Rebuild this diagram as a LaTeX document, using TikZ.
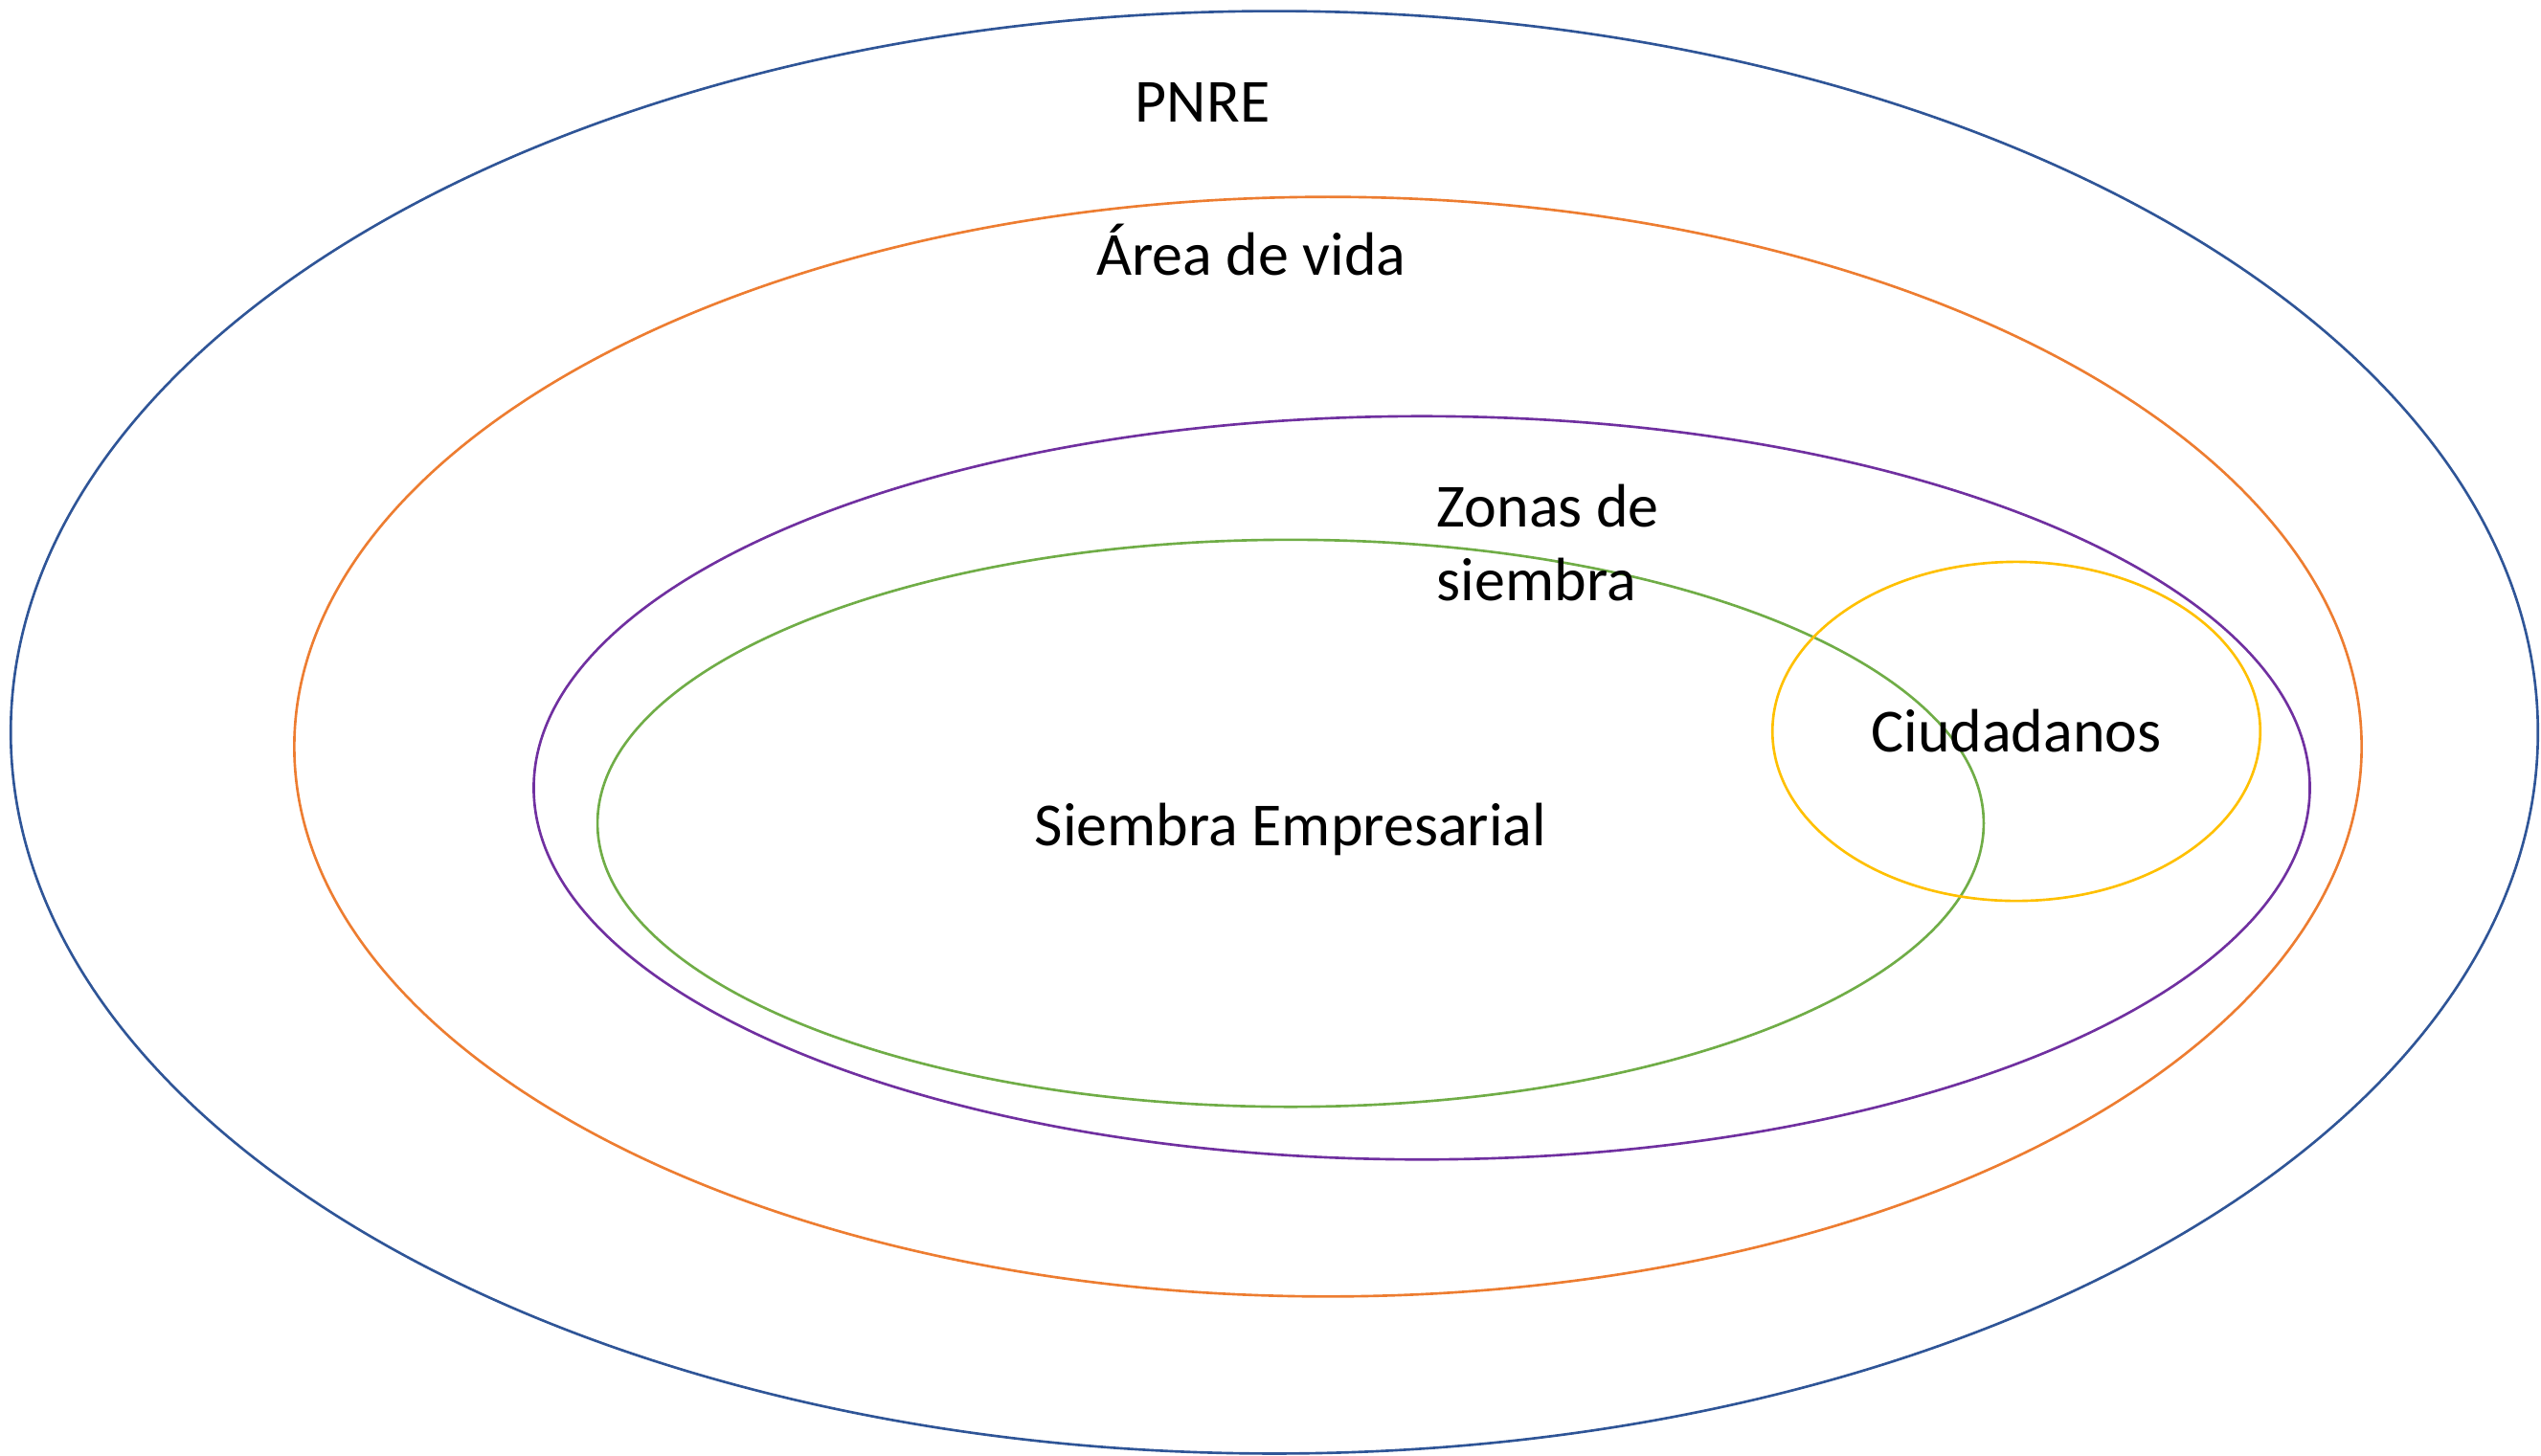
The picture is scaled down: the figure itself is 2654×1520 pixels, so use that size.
\documentclass[tikz,border=0pt]{standalone}
\usepackage{fontspec}
\setmainfont{Carlito}
\definecolor{pnreblue}{HTML}{2F5597}
\definecolor{vidaorange}{HTML}{ED7D31}
\definecolor{zonapurple}{HTML}{7030A0}
\definecolor{siembragreen}{HTML}{70AD47}
\definecolor{ciudyellow}{HTML}{FFC000}
\begin{document}
\begin{tikzpicture}[x=0.01cm,y=-0.01cm,
    ring/.style={line width=0.75pt},
    lbl/.style={font=\fontsize{18.2}{21.9}\selectfont, inner sep=0pt, anchor=base}]
    \useasboundingbox (0,0) rectangle (2654,1520);

    % Nested areas
    \draw[ring, pnreblue] (1331,765) ellipse [x radius=13.19cm, y radius=7.53cm];
    \draw[ring, vidaorange] (1387,780) ellipse [x radius=10.79cm, y radius=5.74cm];
    \draw[ring, zonapurple] (1485,823) ellipse [x radius=9.27cm, y radius=3.88cm];
    \draw[ring, siembragreen] (1348,860) ellipse [x radius=7.235cm, y radius=2.96cm];
    \draw[ring, ciudyellow] (2106,764) ellipse [x radius=2.546cm, y radius=1.77cm];

    % Labels
    \node[lbl] (pnre) at (1256,127) {PNRE};
    \node[lbl] (vida) at (1307,287) {Área de vida};
    \node[lbl, anchor=base west, align=left] (zonas) at (1500,627) {Zonas de\\siembra};
    \node[lbl] (empresa) at (1348,883) {Siembra Empresarial};
    \node[lbl] (ciudad) at (2106,785) {Ciudadanos};
\end{tikzpicture}
\end{document}
